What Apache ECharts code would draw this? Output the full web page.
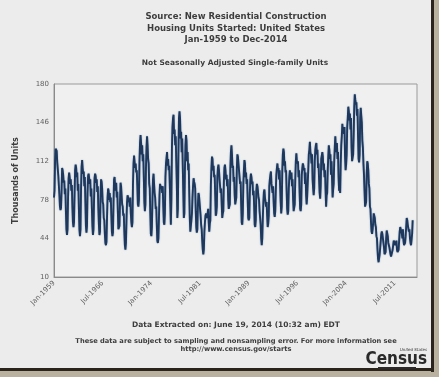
<!DOCTYPE html>
<html>
<head>
<meta charset="utf-8">
<script src="https://cdn.jsdelivr.net/npm/echarts@6/dist/echarts.min.js"></script>
<style>
  html, body { margin: 0; padding: 0; background: #b9b09e; }
  #chart { width: 439px; height: 377px; }
</style>
</head>
<body>
<div id="chart"></div>
<script>
// 单户住宅开工数 (千套, 未季调), 按月
const d1959 = [80, 86, 112, 123, 124, 121, 111, 110, 99, 100, 82, 72]
const d1960s = [
    69, 71, 85, 106, 104, 100, 93, 95, 83, 88, 68, 52,
    47, 52, 80, 97, 102, 98, 92, 96, 86, 91, 72, 58,
    54, 58, 82, 104, 109, 106, 98, 102, 86, 92, 70, 52,
    46, 52, 88, 107, 113, 106, 101, 103, 90, 98, 76, 55,
    49, 55, 84, 99, 101, 97, 92, 96, 81, 88, 71, 55,
    47, 52, 77, 97, 101, 99, 93, 96, 85, 90, 70, 56,
    47, 50, 80, 96, 94, 88, 76, 74, 62, 60, 48, 40,
    38, 41, 62, 80, 88, 86, 78, 84, 76, 80, 64, 50,
    46, 49, 75, 96, 98, 90, 86, 93, 80, 85, 68, 52,
    52, 55, 76, 93, 90, 82, 74, 72, 64, 66, 50, 38
]
const d1970s = [
    34, 40, 60, 76, 82, 80, 76, 78, 72, 80, 66, 58,
    54, 58, 92, 110, 117, 116, 106, 110, 102, 104, 90, 74,
    72, 78, 112, 128, 135, 128, 118, 126, 112, 118, 98, 76,
    68, 74, 106, 124, 134, 126, 114, 110, 92, 88, 66, 48,
    46, 54, 78, 96, 101, 92, 84, 80, 70, 72, 56, 42,
    40, 44, 62, 82, 92, 92, 88, 90, 84, 90, 72, 58,
    56, 66, 98, 110, 115, 120, 108, 114, 104, 108, 92, 74,
    56, 78, 124, 142, 150, 153, 136, 140, 126, 134, 112, 92,
    62, 70, 118, 150, 156, 150, 132, 138, 120, 132, 108, 84,
    62, 66, 104, 126, 135, 130, 112, 120, 104, 110, 84, 62
]
const d1980s = [
    50, 55, 60, 66, 80, 90, 97, 94, 92, 88, 68, 54,
    49, 52, 74, 84, 82, 76, 70, 64, 56, 52, 42, 34,
    30, 34, 50, 58, 64, 66, 62, 64, 66, 70, 58, 50,
    57, 60, 92, 106, 116, 114, 104, 108, 98, 100, 82, 64,
    66, 72, 98, 106, 109, 104, 96, 96, 84, 88, 74, 62,
    66, 68, 94, 106, 109, 104, 96, 100, 90, 96, 78, 70,
    71, 74, 106, 120, 126, 118, 106, 108, 94, 98, 82, 74,
    75, 80, 106, 118, 116, 110, 104, 104, 92, 94, 74, 58,
    56, 66, 92, 104, 113, 110, 98, 102, 92, 96, 78, 62,
    60, 62, 84, 96, 101, 98, 92, 94, 82, 86, 72, 56
]
const d1990s = [
    54, 60, 86, 92, 90, 86, 80, 78, 68, 68, 56, 44,
    38, 44, 62, 76, 85, 87, 80, 80, 72, 76, 64, 54,
    57, 64, 90, 96, 100, 103, 92, 92, 84, 90, 76, 66,
    63, 68, 86, 100, 106, 110, 104, 106, 96, 104, 90, 76,
    66, 72, 104, 118, 123, 120, 108, 112, 102, 104, 86, 70,
    65, 68, 88, 98, 104, 104, 96, 102, 90, 96, 78, 68,
    69, 74, 96, 112, 119, 112, 110, 112, 98, 104, 84, 70,
    68, 74, 100, 106, 110, 108, 104, 106, 92, 102, 82, 74,
    81, 82, 104, 118, 122, 129, 120, 118, 110, 118, 96, 88,
    82, 88, 112, 122, 126, 128, 118, 122, 106, 110, 96, 84
]
const d2000s = [
    79, 90, 114, 114, 120, 116, 104, 110, 98, 104, 86, 72,
    82, 84, 104, 116, 126, 122, 114, 118, 100, 112, 96, 80,
    87, 92, 112, 124, 134, 124, 120, 128, 114, 120, 98, 86,
    88, 84, 110, 126, 134, 145, 138, 140, 136, 142, 116, 104,
    109, 118, 142, 150, 160, 156, 148, 154, 140, 150, 124, 112,
    112, 118, 136, 160, 171, 166, 162, 164, 152, 158, 134, 114,
    111, 118, 150, 159, 152, 146, 130, 124, 110, 100, 86, 72,
    72, 76, 100, 112, 110, 104, 92, 88, 72, 70, 58, 50,
    48, 52, 58, 66, 64, 62, 56, 54, 46, 44, 34, 26,
    23, 24, 30, 36, 42, 48, 50, 48, 44, 44, 36, 30
]
const d2010s = [
    29, 32, 44, 51, 50, 46, 40, 38, 36, 36, 30, 28,
    27, 28, 34, 38, 42, 43, 40, 38, 38, 42, 34, 32,
    31, 34, 42, 50, 54, 52, 50, 48, 44, 52, 42, 38,
    38, 40, 46, 54, 62, 60, 56, 56, 50, 52, 44, 40,
    38, 38, 48, 60
]
const yTicks = [10, 44, 78, 112, 146, 180]
const monthNames = ['Jan', 'Feb', 'Mar', 'Apr', 'May', 'Jun', 'Jul', 'Aug', 'Sep', 'Oct', 'Nov', 'Dec']

// x 轴: Jan-1959 到 Dec-2014
const categories = []
for (let y = 1959; y <= 2014; y++) {
    for (let m = 0; m < 12; m++) {
        categories.push(monthNames[m] + '-' + y)
    }
}
const values = [].concat(d1959, d1960s, d1970s, d1980s, d1990s, d2000s, d2010s)

const font = '"DejaVu Sans", Verdana, sans-serif'
const textColor = '#3d3d3d'

function label (text, x, y, size) {
    return {
        type: 'text',
        x: x,
        y: y,
        style: {
            text: text,
            align: 'center',
            verticalAlign: 'middle',
            font: 'bold ' + size + 'px ' + font,
            fill: textColor
        }
    }
}

const chart = echarts.init(document.getElementById('chart'))
const option = {
    backgroundColor: '#b9b09e',
    animation: false,
    grid: {
        left: 54,
        right: 22,
        top: 84,
        bottom: 100,
        show: true,
        backgroundColor: '#f0f0f0',
        borderColor: '#9a9a9a',
        borderWidth: 1
    },
    xAxis: {
        type: 'category',
        data: categories,
        boundaryGap: false,
        axisLine: { lineStyle: { color: '#8a8a8a' } },
        axisTick: { show: false },
        splitLine: { show: false },
        axisLabel: {
            interval: 89,
            rotate: 45,
            margin: 5,
            fontSize: 7,
            fontFamily: font,
            color: '#606060'
        }
    },
    yAxis: {
        type: 'value',
        min: 10,
        max: 180,
        name: 'Thousands of Units',
        nameLocation: 'middle',
        nameRotate: 90,
        nameGap: 34,
        nameTextStyle: {
            fontSize: 8,
            fontWeight: 'bold',
            fontFamily: font,
            color: textColor
        },
        axisLine: { show: true, lineStyle: { color: '#8a8a8a' } },
        axisTick: { show: false },
        splitLine: { show: false },
        axisLabel: {
            customValues: yTicks,
            margin: 5,
            fontSize: 7,
            fontFamily: font,
            color: '#606060'
        }
    },
    graphic: [
        // 边框 / 阴影
        { type: 'rect', shape: { x: 0, y: 0, width: 431, height: 368 }, style: { fill: '#ececec' }, z: -10 },
        { type: 'rect', shape: { x: 431, y: 0, width: 3, height: 372 }, style: { fill: '#2a241c' }, z: -9 },
        { type: 'rect', shape: { x: 0, y: 368, width: 434, height: 3 }, style: { fill: '#2a241c' }, z: -9 },
        label('Source: New Residential Construction', 236, 17, 8.5),
        label('Housing Units Started: United States', 236, 28.5, 8.5),
        label('Jan-1959 to Dec-2014', 236, 40, 8.5),
        label('Not Seasonally Adjusted Single-family Units', 235, 63, 7.5),
        label('Data Extracted on: June 19, 2014 (10:32 am) EDT', 236, 325, 7.5),
        label('These data are subject to sampling and nonsampling error. For more information see', 236, 341.5, 6.7),
        label('http://www.census.gov/starts', 236, 349.5, 6.7),
        // Census 标志
        {
            type: 'text', x: 427, y: 350,
            style: { text: 'United States', align: 'right', verticalAlign: 'middle', font: 'italic 4px ' + font, fill: '#333' }
        },
        {
            type: 'text', x: 427, y: 360,
            style: { text: 'Census', align: 'right', verticalAlign: 'middle', font: 'bold 17px "Liberation Sans Narrow", "DejaVu Sans Condensed", sans-serif', fill: '#2a2a2a' }
        },
        { type: 'rect', shape: { x: 378, y: 367, width: 38, height: 2 }, style: { fill: '#2a2a2a' } }
    ],
    series: [
        {
            type: 'line',
            data: values,
            showSymbol: false,
            lineStyle: {
                width: 1.9,
                color: '#1d385c',
                shadowColor: 'rgba(90,125,170,0.7)',
                shadowBlur: 1.5
            }
        }
    ]
}
chart.setOption(option)
</script>
</body>
</html>
